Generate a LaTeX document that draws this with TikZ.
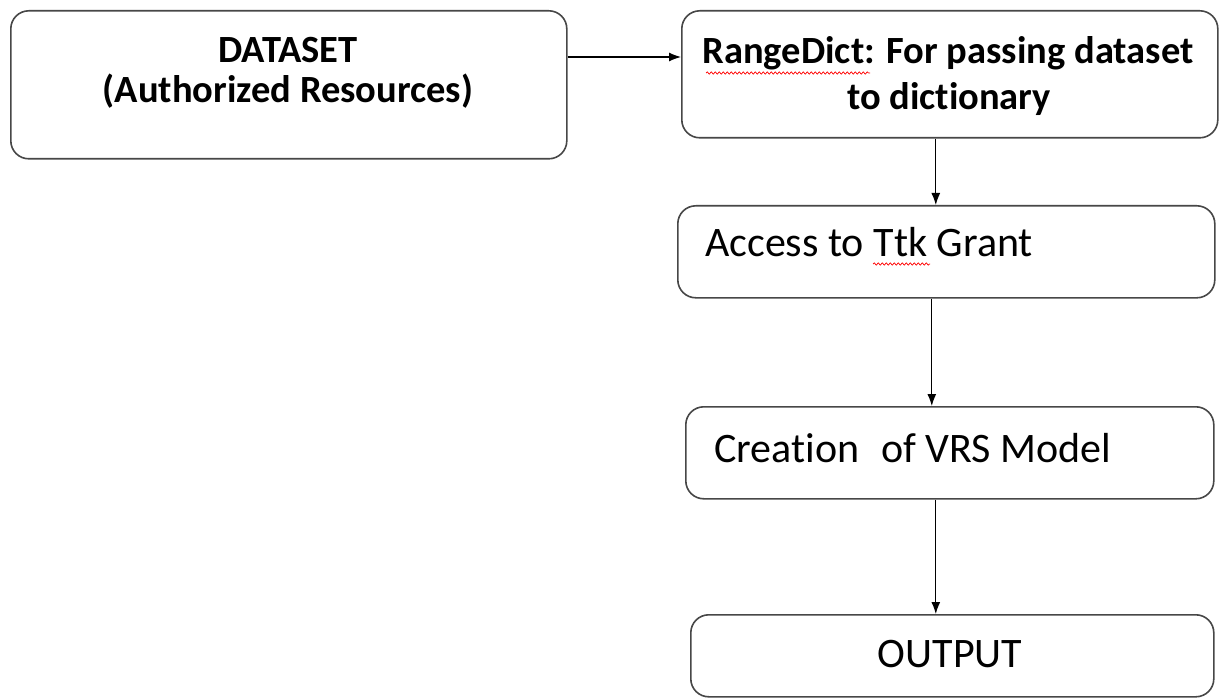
\documentclass[tikz,border=0pt]{standalone}
\usepackage{fontspec}
\setmainfont{Carlito}[Ligatures=NoCommon]
\usetikzlibrary{arrows.meta,decorations.pathmorphing}
\begin{document}
\begin{tikzpicture}[x=1pt,y=-1pt,
  box/.style={draw=black!72,line width=1.6pt,rounded corners=18pt,inner sep=0pt,anchor=north west,fill=white},
  arr/.style={-{Latex[length=12pt,width=9pt]},line width=1.2pt,black},
  bt/.style={anchor=base,inner sep=0pt,font=\fontsize{38.5}{44}\selectfont\bfseries},
  lt/.style={anchor=base west,inner sep=0pt,font=\fontsize{42}{48}\selectfont},
  ct/.style={anchor=base,inner sep=0pt,font=\fontsize{42}{48}\selectfont},
  squig/.style={red,line width=0.7pt,decorate,decoration={snake,amplitude=1.2pt,segment length=4pt}}]
\useasboundingbox[fill=white] (0,0) rectangle (1219,698);
% boxes
\node[box,minimum width=556pt,minimum height=148pt] (ds) at (10,10) {};
\node[box,minimum width=536pt,minimum height=127pt] (rd) at (681,10) {};
\node[box,minimum width=537pt,minimum height=92pt] (acc) at (677,205) {};
\node[box,minimum width=528pt,minimum height=92pt] (cre) at (685,406) {};
\node[box,minimum width=523pt,minimum height=82pt] (out) at (690,614) {};
% texts
\node[bt] (t1) at (288,63) {DATASET};
\node[bt] (t2) at (288,103) {(Authorized Resources)};
\node[bt] (t3) at (948,64) {RangeDict: For passing dataset};
\node[bt] (t4) at (949,110) {to dictionary};
\node[lt] (t5) at (705,256) {Access to Ttk Grant};
\node[lt] (t6) at (714,462) {Creation\hspace{0.3em} of VRS Model};
\node[ct] (t7) at (950,667) {OUTPUT};
% spell-check marks
\draw[squig] (706,73) -- (870,73);
\draw[squig] (873,264) -- (930,264);
% connectors
\draw[arr] ([yshift=-47pt]ds.north east) coordinate (a1) -- (a1 -| rd.west);
\draw[arr] ([xshift=-14pt]rd.south) coordinate (a2) -- (a2 |- acc.north);
\draw[arr] ([xshift=-14.5pt]acc.south) coordinate (a3) -- (a3 |- cre.north);
\draw[arr] ([xshift=-14pt]cre.south) coordinate (a4) -- (a4 |- out.north);
\end{tikzpicture}
\end{document}
